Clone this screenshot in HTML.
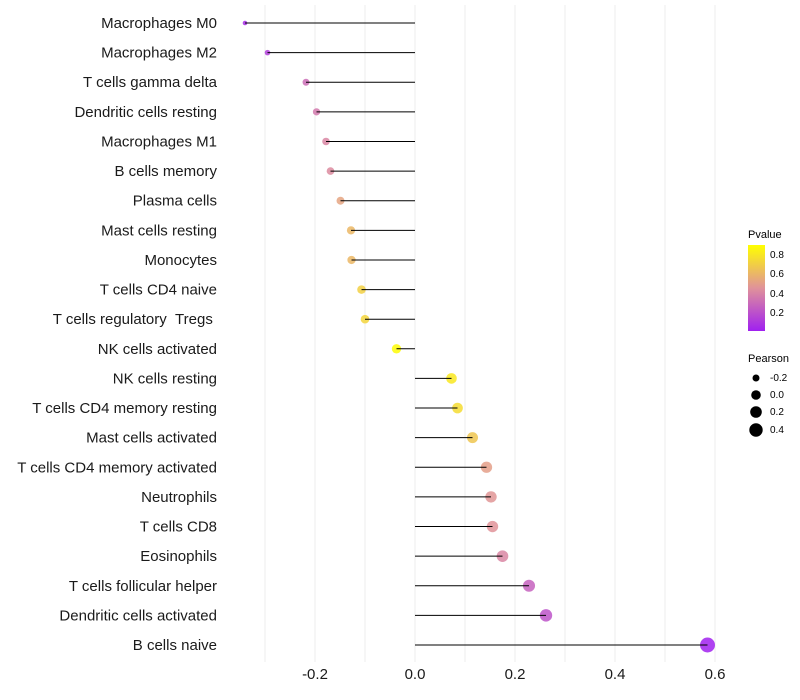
<!DOCTYPE html>
<html><head><meta charset="utf-8"><style>
body{margin:0;background:#fff;font-family:"Liberation Sans",sans-serif;}
svg{display:block}
</style></head><body>
<svg id="chart" width="800" height="700">
<defs><linearGradient id="pg" x1="0" y1="1" x2="0" y2="0">
<stop offset="0" stop-color="#a020f0"/><stop offset="0.5" stop-color="#e0929a"/><stop offset="1" stop-color="#ffff00"/></linearGradient></defs>
<g id="grid"></g>
<g id="marks"></g>
<g id="axes"></g>
<g font-size="10">
<text x="748" y="238" font-size="11">Pvalue</text>
<rect x="748" y="245" width="17" height="86" fill="url(#pg)"/>
<text x="770" y="258">0.8</text>
<text x="770" y="277">0.6</text>
<text x="770" y="297">0.4</text>
<text x="770" y="316">0.2</text>
</g>
<g font-size="10">
<text x="748" y="362" font-size="11">Pearson</text>
<circle cx="756" cy="378" r="3.5"/>
<circle cx="756" cy="395" r="4.8"/>
<circle cx="756" cy="412" r="5.8"/>
<circle cx="756" cy="430" r="6.7"/>
<text x="770" y="381">-0.2</text>
<text x="770" y="398">0.0</text>
<text x="770" y="415">0.2</text>
<text x="770" y="433">0.4</text>
</g>
</svg>
<script>
const cells=["Macrophages M0","Macrophages M2","T cells gamma delta","Dendritic cells resting","Macrophages M1","B cells memory","Plasma cells","Mast cells resting","Monocytes","T cells CD4 naive","T cells regulatory \u00a0Tregs\u00a0","NK cells activated","NK cells resting","T cells CD4 memory resting","Mast cells activated","T cells CD4 memory activated","Neutrophils","T cells CD8","Eosinophils","T cells follicular helper","Dendritic cells activated","B cells naive"];
const pearson=[-0.34,-0.295,-0.218,-0.197,-0.178,-0.169,-0.149,-0.128,-0.127,-0.107,-0.1,-0.037,0.073,0.085,0.115,0.143,0.152,0.155,0.175,0.228,0.262,0.585];
const pvalue=[0.05,0.12,0.3,0.35,0.4,0.42,0.52,0.6,0.6,0.7,0.72,0.88,0.8,0.75,0.66,0.5,0.46,0.45,0.4,0.26,0.2,0.005];
const xticks=[-0.2,0.0,0.2,0.4,0.6];
const xgrid=[-0.3,-0.2,-0.1,0,0.1,0.2,0.3,0.4,0.5,0.6];
const NS="http://www.w3.org/2000/svg";
const X=v=>415+v*500;
const Y=i=>23+i*(645-23)/21;
function mk(t,a,p){const e=document.createElementNS(NS,t);for(const k in a)e.setAttribute(k,a[k]);p.appendChild(e);return e;}
function col(p){const t=Math.max(0,Math.min(1,p/0.893));
 const a=[160,32,240],m=[224,146,154],b=[255,255,0];
 let c;if(t<0.5){const s=t/0.5;c=a.map((v,i)=>v+(m[i]-v)*s);}else{const s=(t-0.5)/0.5;c=m.map((v,i)=>v+(b[i]-v)*s);}
 return`rgb(${c.map(Math.round).join(",")})`;}
const R=v=>Math.sqrt(Math.max(2,24+55*v));
const grid=document.getElementById('grid'),marks=document.getElementById('marks'),axes=document.getElementById('axes');
xgrid.forEach(v=>{const l=mk('line',{x1:X(v),x2:X(v),y1:5,y2:662,stroke:'#eeeeee','stroke-width':1},grid);

});
cells.forEach((c,i)=>{
 const p=mk('circle',{cx:X(pearson[i]),cy:Y(i),r:R(pearson[i]),fill:col(pvalue[i]),'fill-opacity':0.85},marks);
 
 
 const l=mk('line',{x1:X(0),x2:X(pearson[i]),y1:Y(i),y2:Y(i),stroke:'#000','stroke-width':1},marks);
 
 
 const t=mk('text',{x:217,y:Y(i)+5,'text-anchor':'end','font-size':15,fill:'#1a1a1a'},axes);
 t.textContent=c;
 
 
});
xticks.forEach(v=>{const t=mk('text',{x:X(v),y:679,'text-anchor':'middle','font-size':15,fill:'#1a1a1a'},axes);
 t.textContent=v.toFixed(1);
 
 });
</script>
</body></html>
